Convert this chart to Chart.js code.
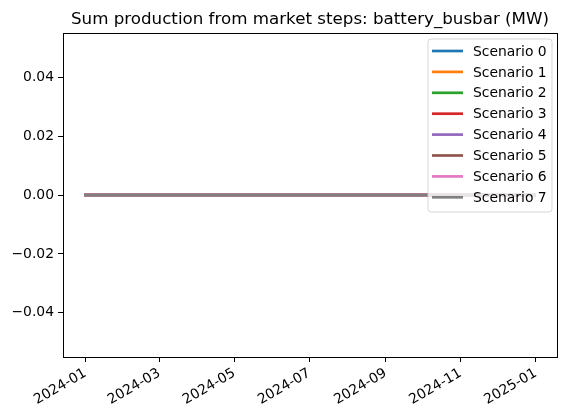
<!DOCTYPE html>
<html lang="en">
<head>
    <meta charset="UTF-8">
    <title>Sum production from market steps: battery_busbar (MW)</title>
    <script src="https://cdn.jsdelivr.net/npm/chart.js"></script>
    <style>
        html, body { margin: 0; padding: 0; background: #fff; }
        #wrap { width: 567px; height: 419px; position: relative; }
    </style>
</head>
<body>
<div id="wrap"><canvas id="prodChart"></canvas></div>
<script>
    // dates of the samples (all values are zero)
    var dates = ['2024-01-01', '2024-02-01', '2024-03-01', '2024-04-01', '2024-05-01', '2024-06-01',
                 '2024-07-01', '2024-08-01', '2024-09-01', '2024-10-01', '2024-11-01', '2024-12-01', '2024-12-31'];
    var scenarioNames = ['Scenario 0', 'Scenario 1', 'Scenario 2', 'Scenario 3',
                         'Scenario 4', 'Scenario 5', 'Scenario 6', 'Scenario 7'];
    var scenario0 = [0, 0, 0, 0, 0, 0, 0, 0, 0, 0, 0, 0, 0];
    var scenario1 = [0, 0, 0, 0, 0, 0, 0, 0, 0, 0, 0, 0, 0];
    var scenario2 = [0, 0, 0, 0, 0, 0, 0, 0, 0, 0, 0, 0, 0];
    var scenario3 = [0, 0, 0, 0, 0, 0, 0, 0, 0, 0, 0, 0, 0];
    var scenario4 = [0, 0, 0, 0, 0, 0, 0, 0, 0, 0, 0, 0, 0];
    var scenario5 = [0, 0, 0, 0, 0, 0, 0, 0, 0, 0, 0, 0, 0];
    var scenario6 = [0, 0, 0, 0, 0, 0, 0, 0, 0, 0, 0, 0, 0];
    var scenario7 = [0, 0, 0, 0, 0, 0, 0, 0, 0, 0, 0, 0, 0];
    var xTickDates = ['2024-01-01', '2024-03-01', '2024-05-01', '2024-07-01', '2024-09-01', '2024-11-01', '2025-01-01'];
    var yTicks = [-0.04, -0.02, 0.00, 0.02, 0.04];

    var colors = ['#1f77b4', '#ff7f0e', '#2ca02c', '#d62728', '#9467bd', '#8c564b', '#e377c2', '#7f7f7f'];
    var allValues = [scenario0, scenario1, scenario2, scenario3, scenario4, scenario5, scenario6, scenario7];

    function ts(s) { return Date.parse(s + 'T00:00:00Z'); }
    var xs = dates.map(ts);
    var span = xs[xs.length - 1] - xs[0];
    var FONT = 'DejaVu Sans';
    var LW = 2.7;

    var datasets = allValues.map(function (vals, i) {
        return {
            label: scenarioNames[i],
            data: vals.map(function (v, j) { return { x: xs[j], y: v }; }),
            borderColor: colors[i],
            backgroundColor: colors[i],
            borderWidth: LW,
            borderCapStyle: 'square',
            pointRadius: 0,
            fill: false,
            order: allValues.length - 1 - i  // last scenario drawn on top
        };
    });

    // box around the plot, title and legend like matplotlib
    var decor = {
        id: 'decor',
        afterDatasetsDraw: function (chart) {
            var ctx = chart.ctx, a = chart.chartArea;
            ctx.save();
            ctx.strokeStyle = '#000';
            ctx.lineWidth = 1;
            ctx.strokeRect(Math.round(a.left) + 0.5, Math.round(a.top) + 0.5,
                Math.round(a.right - a.left), Math.round(a.bottom - a.top));

            // title
            ctx.fillStyle = '#000';
            ctx.font = '16.7px "' + FONT + '"';
            ctx.textAlign = 'center';
            ctx.textBaseline = 'alphabetic';
            ctx.fillText('Sum production from market steps: battery_busbar (MW)', (a.left + a.right) / 2, 24);

            // legend
            var bx = 428, by = 39, bw = 124, bh = 173, r = 3;
            ctx.beginPath();
            ctx.moveTo(bx + r, by);
            ctx.arcTo(bx + bw, by, bx + bw, by + bh, r);
            ctx.arcTo(bx + bw, by + bh, bx, by + bh, r);
            ctx.arcTo(bx, by + bh, bx, by, r);
            ctx.arcTo(bx, by, bx + bw, by, r);
            ctx.closePath();
            ctx.fillStyle = 'rgba(255,255,255,0.8)';
            ctx.fill();
            ctx.strokeStyle = 'rgba(204,204,204,0.8)';
            ctx.stroke();

            ctx.font = '13.9px "' + FONT + '"';
            ctx.textAlign = 'left';
            ctx.textBaseline = 'middle';
            chart.data.datasets.forEach(function (ds, i) {
                var y = 51 + i * 20.9;
                ctx.strokeStyle = ds.borderColor;
                ctx.lineWidth = LW;
                ctx.beginPath();
                ctx.moveTo(432, y);
                ctx.lineTo(463, y);
                ctx.stroke();
                ctx.fillStyle = '#000';
                ctx.fillText(ds.label, 473, y + 1);
            });
            ctx.restore();
        }
    };

    var ctx = document.getElementById('prodChart').getContext('2d');
    new Chart(ctx, {
        type: 'line',
        data: { datasets: datasets },
        options: {
            responsive: true,
            maintainAspectRatio: false,
            animation: false,
            layout: { padding: { top: 33, right: 10, left: 0, bottom: 0 } },
            plugins: {
                legend: { display: false },
                title: { display: false },
                tooltip: { enabled: false }
            },
            scales: {
                x: {
                    type: 'linear',
                    min: xs[0] - 0.05 * span,
                    max: xs[xs.length - 1] + 0.05 * span,
                    afterBuildTicks: function (axis) {
                        axis.ticks = xTickDates.map(function (d) { return { value: ts(d) }; });
                    },
                    afterFit: function (axis) { axis.height = 62; },
                    grid: { drawOnChartArea: false, drawTicks: true, tickLength: 5, color: '#000' },
                    border: { display: true, color: '#000' },
                    ticks: {
                        color: '#000',
                        font: { family: FONT, size: 13.9 },
                        minRotation: 30,
                        maxRotation: 30,
                        padding: 3,
                        autoSkip: false,
                        callback: function (v) {
                            var d = new Date(v);
                            var m = d.getUTCMonth() + 1;
                            return d.getUTCFullYear() + '-' + (m < 10 ? '0' + m : m);
                        }
                    }
                },
                y: {
                    min: -0.055,
                    max: 0.055,
                    afterBuildTicks: function (axis) {
                        axis.ticks = yTicks.map(function (v) { return { value: v }; });
                    },
                    afterFit: function (axis) { axis.width = 63; },
                    grid: { drawOnChartArea: false, drawTicks: true, tickLength: 5, color: '#000' },
                    border: { display: true, color: '#000' },
                    ticks: {
                        color: '#000',
                        font: { family: FONT, size: 13.9 },
                        padding: 4,
                        callback: function (v) {
                            var s = Math.abs(v).toFixed(2);
                            return v < -1e-9 ? '\u2212' + s : s;
                        }
                    }
                }
            }
        },
        plugins: [decor]
    });
</script>
</body>
</html>
